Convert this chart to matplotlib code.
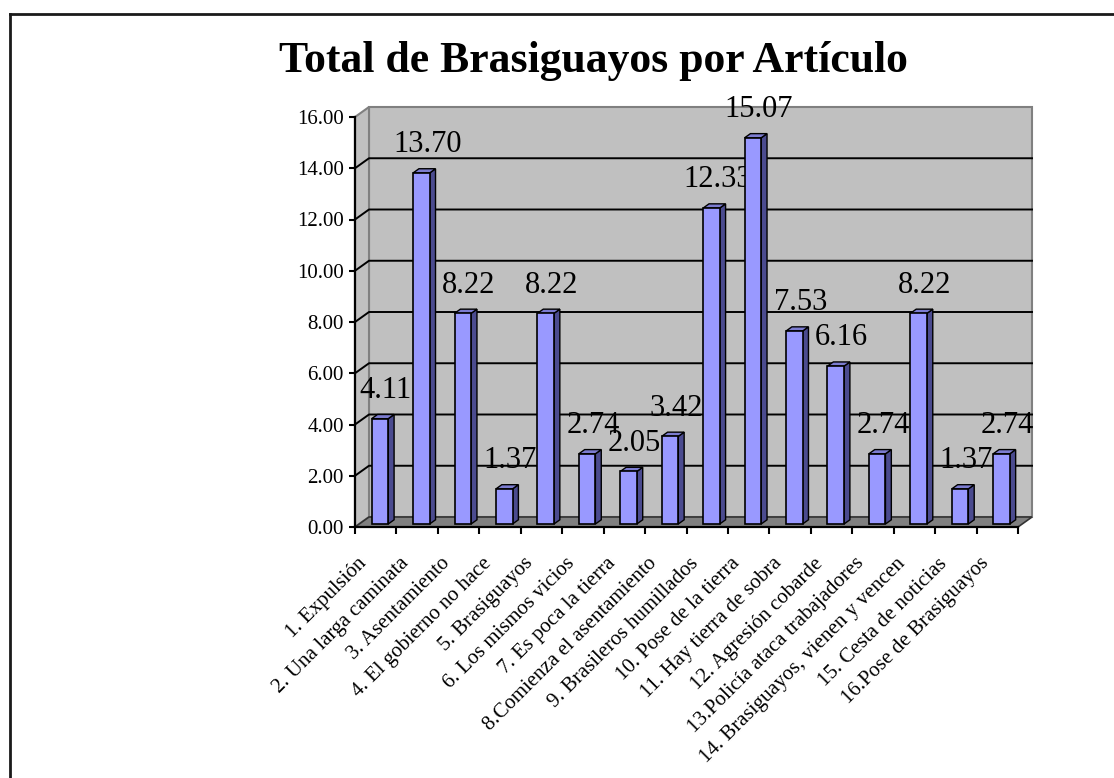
import matplotlib
matplotlib.use("Agg")
import matplotlib.pyplot as plt
from matplotlib.patches import Polygon
from matplotlib.lines import Line2D

# ---- data ----
CATEGORIES = [
    "1. Expulsión",
    "2. Una larga caminata",
    "3. Asentamiento",
    "4. El gobierno no hace",
    "5. Brasiguayos",
    "6. Los mismos vicios",
    "7. Es poca la tierra",
    "8.Comienza el asentamiento",
    "9. Brasileros humillados",
    "10. Pose de la tierra",
    "11. Hay tierra de sobra",
    "12. Agresión cobarde",
    "13.Policía ataca trabajadores",
    "14. Brasiguayos, vienen y vencen",
    "15. Cesta de noticias",
    "16.Pose de Brasiguayos",
]
VALUES = [4.11, 13.70, 8.22, 1.37, 8.22, 2.74, 2.05, 3.42,
          12.33, 15.07, 7.53, 6.16, 2.74, 8.22, 1.37, 2.74]
YTICKS = [0, 2, 4, 6, 8, 10, 12, 14, 16]
TITLE = "Total de Brasiguayos por Artículo"

FONT = "Liberation Serif"
FRONT, SIDE, TOP = "#9999ff", "#4b4b8f", "#7c7cd0"
WALL, FLOOR, EDGE = "#c0c0c0", "#808080", "#808080"

W, H = 1114, 778
# plot area in pixels (front plane)
X0, X1, Y0, Y1 = 355, 1018, 527, 117
DXP, DYP = 14, 10          # 3D depth offset in pixels


def main():
    n = len(VALUES)
    ymax = YTICKS[-1]
    fig = plt.figure(figsize=(W / 100, H / 100), dpi=100)
    ax = fig.add_axes([X0 / W, 1 - Y0 / H, (X1 - X0) / W, (Y0 - Y1) / H])
    ax.set_xlim(0, n)
    ax.set_ylim(0, ymax)
    ax.patch.set_visible(False)

    dx = DXP / ((X1 - X0) / n)
    dy = DYP / ((Y0 - Y1) / ymax)

    # walls and floor
    ax.add_patch(Polygon([(dx, dy), (n + dx, dy), (n + dx, ymax + dy), (dx, ymax + dy)],
                         closed=True, fc=WALL, ec=EDGE, lw=1.5, zorder=0.5, clip_on=False))
    ax.add_patch(Polygon([(0, 0), (dx, dy), (dx, ymax + dy), (0, ymax)],
                         closed=True, fc=WALL, ec=EDGE, lw=1.5, zorder=0.5, clip_on=False))
    ax.add_patch(Polygon([(0, 0), (n, 0), (n + dx, dy), (dx, dy)],
                         closed=True, fc=FLOOR, ec="#333333", lw=1.2, zorder=0.6, clip_on=False))

    # gridlines on back wall + side wall
    for t in YTICKS[1:-1]:
        ax.plot([0, dx, n + dx], [t, t + dy, t + dy], color="black", lw=1.4,
                zorder=0.8, clip_on=False)

    # bars (front face, side, top)
    f, bd, bw = 0.3, 0.42, 0.40
    for i, v in enumerate(VALUES):
        cx = i + 0.5 + f * dx
        xl, xr = cx - bw / 2, cx + bw / 2
        yb, yt = f * dy, v + f * dy
        ax.bar(cx, v, width=bw, bottom=yb, color=FRONT, edgecolor="black",
               lw=1.2, zorder=3)
        ax.add_patch(Polygon([(xr, yb), (xr + bd * dx, yb + bd * dy),
                              (xr + bd * dx, yt + bd * dy), (xr, yt)],
                             closed=True, fc=SIDE, ec="black", lw=1.0, zorder=2.9))
        ax.add_patch(Polygon([(xl, yt), (xr, yt), (xr + bd * dx, yt + bd * dy),
                              (xl + bd * dx, yt + bd * dy)],
                             closed=True, fc=TOP, ec="black", lw=1.0, zorder=2.9))
        ax.annotate(f"{v:.2f}", xy=(cx, yt), xytext=(4.3, 15),
                    textcoords="offset points", ha="center", va="baseline",
                    fontsize=22, family=FONT, zorder=1.5)
        ax.annotate(CATEGORIES[i], xy=(i + 0.5, 0), xytext=(-13, -19.5),
                    textcoords="offset points", ha="right", va="top",
                    rotation=45, rotation_mode="anchor", fontsize=15,
                    family=FONT, annotation_clip=False)

    # axes
    for s in ("top", "right"):
        ax.spines[s].set_visible(False)
    for s in ("left", "bottom"):
        ax.spines[s].set_color("black")
        ax.spines[s].set_linewidth(1.6)
        ax.spines[s].set_zorder(4)
    ax.set_yticks(YTICKS)
    ax.set_yticklabels([f"{t:.2f}" for t in YTICKS], fontsize=15, family=FONT)
    ax.set_xticks(range(n + 1))
    ax.set_xticklabels([])
    ax.tick_params(axis="y", length=4, width=1.5, pad=4, colors="black")
    ax.tick_params(axis="x", length=5, width=1.5, colors="black")

    fig.text(593 / W, 1 - 72 / H, TITLE, ha="center", va="baseline",
             fontsize=31.5, fontweight="bold", family=FONT)

    # outer chart frame (continues past the right and bottom edges)
    fig.add_artist(Line2D([10 / W, 10 / W], [0, 1 - 14 / H], color="#1a1a1a", lw=2))
    fig.add_artist(Line2D([10 / W, 1], [1 - 14 / H, 1 - 14 / H], color="#1a1a1a", lw=2))

    fig.savefig("out.png", dpi=100)


if __name__ == "__main__":
    main()
